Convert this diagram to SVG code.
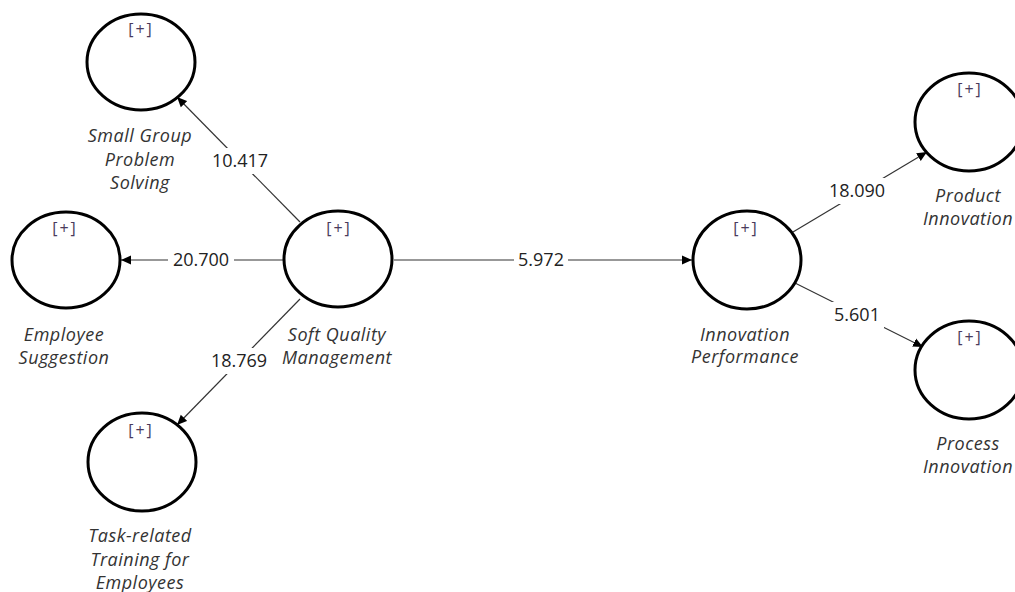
<svg xmlns="http://www.w3.org/2000/svg" width="1015" height="592" viewBox="0 0 1015 592">
  <style>
    .lv { fill: #ffffff; stroke: #000000; stroke-width: 3; }
    .tag { font-family: "Open Sans", "DejaVu Sans", sans-serif; font-size: 16px; letter-spacing: 2px; fill: #4a3a5c; text-anchor: middle; }
    .name { font-family: "Open Sans", "DejaVu Sans", sans-serif; font-size: 18px; letter-spacing: 0.5px; font-style: italic; fill: #333333; text-anchor: middle; }
    .edge { stroke: #333333; stroke-width: 1.2; fill: none; marker-end: url(#head); }
    .val { font-family: "Open Sans", "DejaVu Sans", sans-serif; font-size: 18px; fill: #222222; text-anchor: middle; }
    .pad { fill: #ffffff; }
  </style>
  <defs>
    <marker id="head" viewBox="0 0 10 10" refX="10" refY="5" markerWidth="10" markerHeight="10" markerUnits="userSpaceOnUse" orient="auto">
      <path d="M0,0.5 L10,5 L0,9.5 Z" fill="#000000"/>
    </marker>
  </defs>

  <rect x="0" y="0" width="1015" height="592" fill="#ffffff"/>

  <!-- paths with their coefficients -->
  <g id="connectors">
    <line class="edge" x1="300" y1="222" x2="177" y2="97"/>
    <rect class="pad" x="207" y="148" width="66" height="26"/>
    <text class="val" x="240" y="167">10.417</text>

    <line class="edge" x1="283" y1="260" x2="121" y2="260"/>
    <rect class="pad" x="168" y="248" width="66" height="26"/>
    <text class="val" x="201" y="266">20.700</text>

    <line class="edge" x1="300" y1="299" x2="177" y2="425"/>
    <rect class="pad" x="206" y="348" width="66" height="26"/>
    <text class="val" x="239" y="367">18.769</text>

    <line class="edge" x1="394" y1="260" x2="692" y2="260"/>
    <rect class="pad" x="514" y="248" width="54" height="26"/>
    <text class="val" x="541" y="266">5.972</text>

    <line class="edge" x1="793" y1="232" x2="927" y2="152"/>
    <rect class="pad" x="824" y="178" width="66" height="26"/>
    <text class="val" x="857" y="197">18.090</text>

    <line class="edge" x1="795" y1="283" x2="923" y2="347"/>
    <rect class="pad" x="830" y="302" width="54" height="26"/>
    <text class="val" x="857" y="321">5.601</text>
  </g>

  <g id="small-group-problem-solving">
    <ellipse class="lv" cx="141" cy="62" rx="54" ry="48"/>
    <text class="tag" x="141" y="35">[+]</text>
    <text class="name" x="140" y="142">Small Group</text>
    <text class="name" x="140" y="166">Problem</text>
    <text class="name" x="140" y="189">Solving</text>
  </g>

  <g id="employee-suggestion">
    <ellipse class="lv" cx="66" cy="260" rx="54" ry="48"/>
    <text class="tag" x="65" y="234">[+]</text>
    <text class="name" x="64" y="341">Employee</text>
    <text class="name" x="64" y="364">Suggestion</text>
  </g>

  <g id="soft-quality-management">
    <ellipse class="lv" cx="338" cy="259" rx="54" ry="48"/>
    <text class="tag" x="339" y="234">[+]</text>
    <text class="name" x="337" y="341">Soft Quality</text>
    <text class="name" x="337" y="364">Management</text>
  </g>

  <g id="task-related-training">
    <ellipse class="lv" cx="142" cy="462" rx="54" ry="49"/>
    <text class="tag" x="141" y="436">[+]</text>
    <text class="name" x="140" y="542">Task-related</text>
    <text class="name" x="140" y="566">Training for</text>
    <text class="name" x="140" y="589">Employees</text>
  </g>

  <g id="innovation-performance">
    <ellipse class="lv" cx="747" cy="260" rx="54" ry="49"/>
    <text class="tag" x="746" y="234">[+]</text>
    <text class="name" x="745" y="341">Innovation</text>
    <text class="name" x="745" y="363">Performance</text>
  </g>

  <g id="product-innovation">
    <ellipse class="lv" cx="969" cy="122" rx="54" ry="49"/>
    <text class="tag" x="970" y="95">[+]</text>
    <text class="name" x="968" y="202">Product</text>
    <text class="name" x="968" y="225">Innovation</text>
  </g>

  <g id="process-innovation">
    <ellipse class="lv" cx="969" cy="370" rx="54" ry="49"/>
    <text class="tag" x="970" y="343">[+]</text>
    <text class="name" x="968" y="450">Process</text>
    <text class="name" x="968" y="473">Innovation</text>
  </g>
</svg>
